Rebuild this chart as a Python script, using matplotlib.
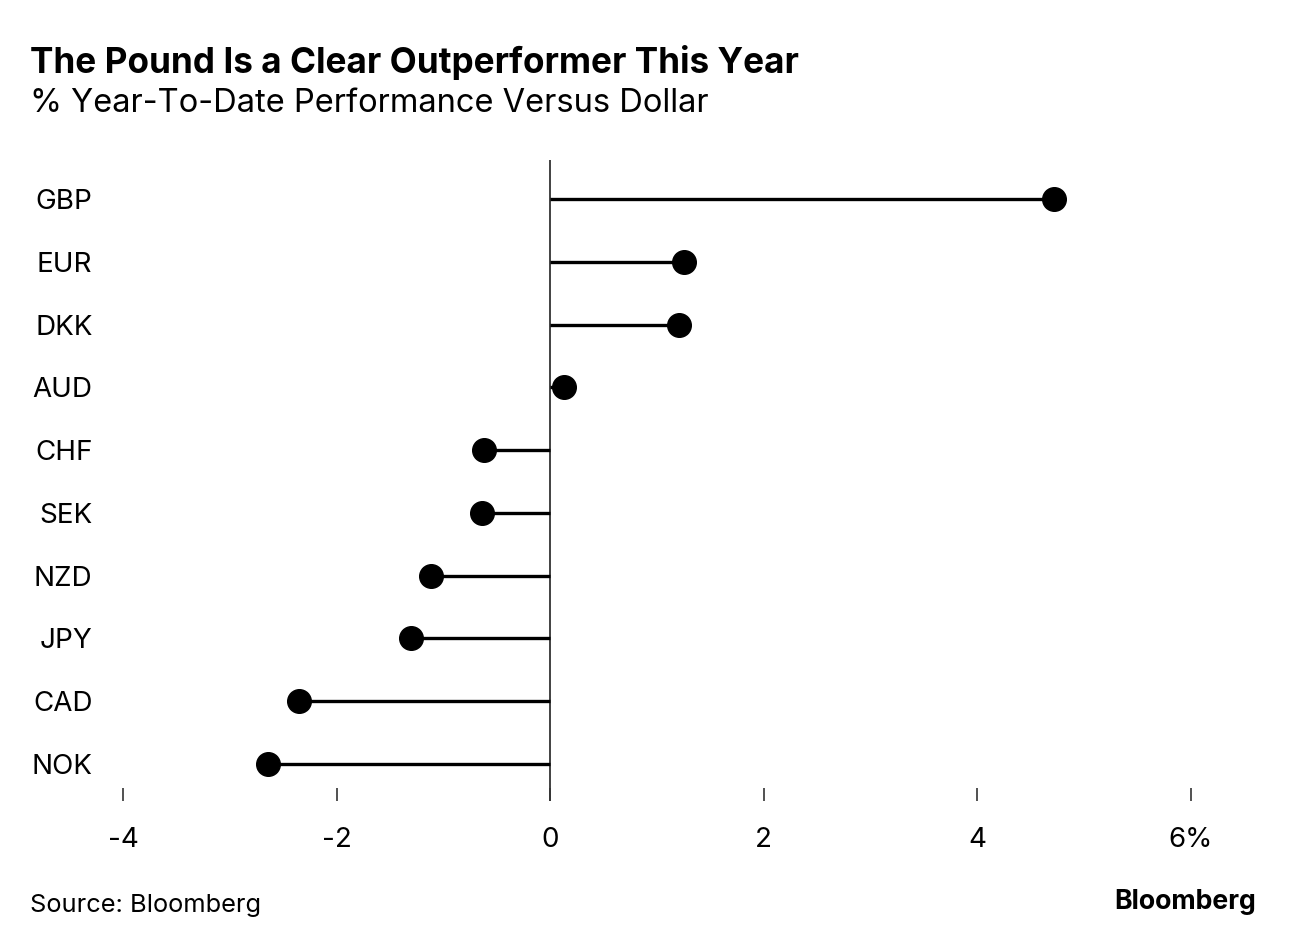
import matplotlib
matplotlib.use("Agg")
import matplotlib.pyplot as plt

currencies = ["GBP", "EUR", "DKK", "AUD", "CHF", "SEK", "NZD", "JPY", "CAD", "NOK"]
performance = [4.72, 1.25, 1.21, 0.13, -0.62, -0.64, -1.12, -1.30, -2.35, -2.64]
xticks = [-4, -2, 0, 2, 4, 6]
xticklabels = ["-4", "-2", "0", "2", "4", "6%"]

plt.rcParams['font.family'] = ['Inter', 'DejaVu Sans']

W, H = 1296, 946
fig = plt.figure(figsize=(W / 100, H / 100), dpi=100)
ax = fig.add_axes([123 / W, 1 - 801 / H, 1068 / W, 641 / H])

ypos = list(range(len(currencies)))
ax.hlines(ypos, 0, performance, color="black", linewidth=2.4, zorder=2)
ax.plot(performance, ypos, "o", color="black", markersize=17, zorder=3, clip_on=False)
ax.axvline(0, color="#333333", linewidth=1.3, zorder=1)

ax.set_xlim(-4, 6)
ax.set_ylim(9 + 37 / 62.8, -39 / 62.8)
ax.set_xticks(xticks)
ax.set_xticklabels(xticklabels, fontsize=20)
ax.set_yticks(ypos)
ax.set_yticklabels(currencies, fontsize=20)
for s in ax.spines.values():
    s.set_visible(False)
ax.tick_params(axis="x", direction="in", length=9.5, width=1.2, color="#333333", pad=19)
ax.tick_params(axis="y", length=0, pad=22)

fig.text(30 / W, 1 - 62 / H, "The Pound Is a Clear Outperformer This Year",
         fontsize=25.3, fontweight="bold", va="center", ha="left")
fig.text(30 / W, 1 - 104 / H, "% Year-To-Date Performance Versus Dollar",
         fontsize=23.5, va="center", ha="left")
fig.text(30 / W, 1 - 905 / H, "Source: Bloomberg", fontsize=18.3, va="center", ha="left")
fig.text(1256 / W, 1 - 902 / H, "Bloomberg", fontsize=19.2, fontweight="bold",
         va="center", ha="right")

fig.savefig("out.png", dpi=100)
